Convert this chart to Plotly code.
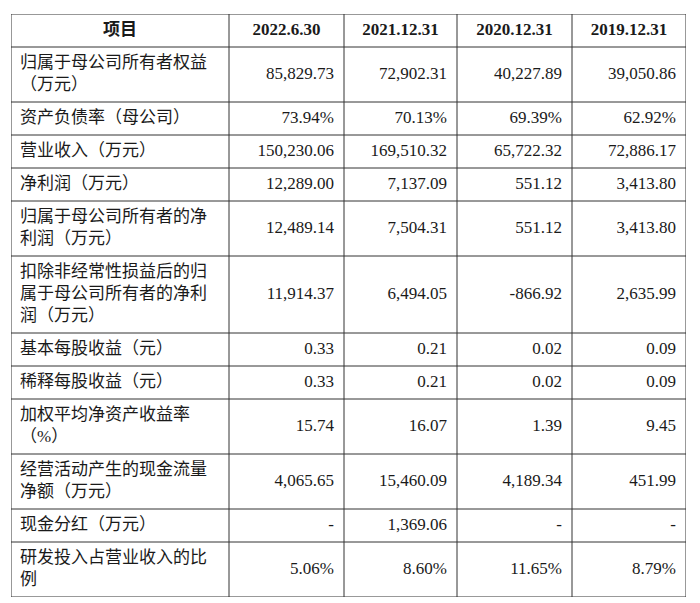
import plotly.graph_objects as go

# Table content
header = ["项目", "2022.6.30", "2021.12.31", "2020.12.31", "2019.12.31"]

items = [
    "归属于母公司所有者权益<br>（万元）",
    "资产负债率（母公司）",
    "营业收入（万元）",
    "净利润（万元）",
    "归属于母公司所有者的净<br>利润（万元）",
    "扣除非经常性损益后的归<br>属于母公司所有者的净利<br>润（万元）",
    "基本每股收益（元）",
    "稀释每股收益（元）",
    "加权平均净资产收益率<br>（%）",
    "经营活动产生的现金流量<br>净额（万元）",
    "现金分红（万元）",
    "研发投入占营业收入的比<br>例",
]

v_2022_06_30 = ["85,829.73", "73.94%", "150,230.06", "12,289.00", "12,489.14",
                "11,914.37", "0.33", "0.33", "15.74", "4,065.65", "-", "5.06%"]
v_2021_12_31 = ["72,902.31", "70.13%", "169,510.32", "7,137.09", "7,504.31",
                "6,494.05", "0.21", "0.21", "16.07", "15,460.09", "1,369.06", "8.60%"]
v_2020_12_31 = ["40,227.89", "69.39%", "65,722.32", "551.12", "551.12",
                "-866.92", "0.02", "0.02", "1.39", "4,189.34", "-", "11.65%"]
v_2019_12_31 = ["39,050.86", "62.92%", "72,886.17", "3,413.80", "3,413.80",
                "2,635.99", "0.09", "0.09", "9.45", "451.99", "-", "8.79%"]

columns = [v_2022_06_30, v_2021_12_31, v_2020_12_31, v_2019_12_31]

# layout of the grid (pixel-like units)
col_widths = [218, 115, 113, 115, 114]
single_h, extra_h = 33, 22
font = "Liberation Serif, Noto Sans CJK SC, serif"
line_color = "#333333"
text_color = "#1a1a1a"

col_edges = [0]
for w in col_widths:
    col_edges.append(col_edges[-1] + w)

row_lines = [1] + [t.count("<br>") + 1 for t in items]
row_edges = [0]
for n in row_lines:
    row_edges.append(row_edges[-1] + single_h + extra_h * (n - 1))
row_mid = [(row_edges[i] + row_edges[i + 1]) / 2 for i in range(len(row_lines))]
width_total = col_edges[-1]
height_total = row_edges[-1]

fig = go.Figure()

# header
fig.add_trace(go.Scatter(
    x=[(col_edges[i] + col_edges[i + 1]) / 2 for i in range(len(header))],
    y=[row_mid[0]] * len(header),
    text=[f"<b>{h}</b>" for h in header],
    mode="text", textposition="middle center",
    textfont=dict(family=font, size=17, color=text_color),
    hoverinfo="skip", showlegend=False))

# item labels
fig.add_trace(go.Scatter(
    x=[col_edges[0] + 9] * len(items), y=row_mid[1:], text=items,
    mode="text", textposition="middle right",
    textfont=dict(family=font, size=17, color=text_color),
    hoverinfo="skip", showlegend=False))

# values, right aligned
for j, vals in enumerate(columns):
    fig.add_trace(go.Scatter(
        x=[col_edges[j + 2] - 10] * len(vals), y=row_mid[1:], text=vals,
        mode="text", textposition="middle left",
        textfont=dict(family=font, size=17, color=text_color),
        hoverinfo="skip", showlegend=False))

# grid lines
for y in row_edges:
    fig.add_shape(type="line", x0=0, x1=width_total, y0=y, y1=y,
                  line=dict(color=line_color, width=1))
for x in col_edges:
    fig.add_shape(type="line", x0=x, x1=x, y0=0, y1=height_total,
                  line=dict(color=line_color, width=1))

fig.update_xaxes(range=[0, width_total], visible=False, fixedrange=True)
fig.update_yaxes(range=[height_total, 0], visible=False, fixedrange=True)
# page body adds an 8px margin, so the figure is a bit smaller
fig.update_layout(width=692, height=595,
                  margin=dict(l=3, r=14, t=6, b=6),
                  plot_bgcolor="white", paper_bgcolor="white")

fig.write_html("out.html")
